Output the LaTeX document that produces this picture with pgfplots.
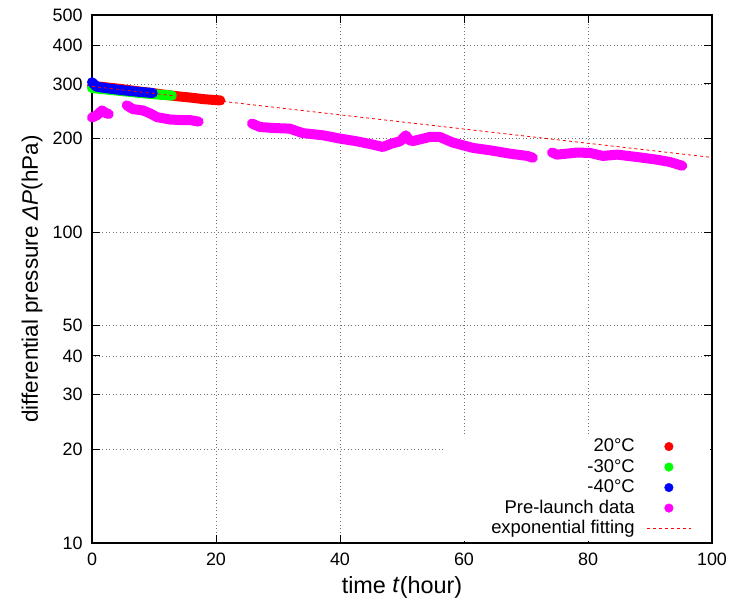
\documentclass[border=0pt]{standalone}
\usepackage{fontspec}
\setmainfont{Liberation Sans}
\usepackage{pgfplots}
\pgfplotsset{compat=1.18}
\usetikzlibrary{calc}

\definecolor{cRed}{HTML}{FF0000}
\definecolor{cGreen}{HTML}{00FF00}
\definecolor{cBlue}{HTML}{0000FF}
\definecolor{cMag}{HTML}{FF00FF}

\pgfplotsset{
  band/.style={line width=10bp, line cap=round, line join=round, forget plot},
}

\begin{document}
\begin{tikzpicture}
\begin{axis}[
  scale only axis,
  width=620bp, height=528bp,
  xmin=0, xmax=100,
  ymode=log, ymin=10, ymax=500,
  xtick={0,20,40,60,80,100},
  ytick={10,20,30,40,50,100,200,300,400,500},
  yticklabels={10,20,30,40,50,100,200,300,400,500},
  /pgf/number format/assume math mode=true,
  tick label style={font=\fontsize{18}{21}\selectfont},
  yticklabel style={xshift=-6bp},
  xticklabel style={yshift=-6bp},
  major tick length=8bp,
  every tick/.style={black, line width=1bp},
  axis line style={black, line width=1.2bp},
  grid=major,
  grid style={black!55, line width=0.7bp, dash pattern=on 1bp off 2.5bp},
  clip=false,
  xlabel={time \textit{t}(hour)},
  ylabel={differential pressure \textit{ΔP}(hPa)},
  xlabel style={font=\fontsize{23.5}{28}\selectfont,
    at={(axis description cs:0.5,-0.0947)}, anchor=base},
  ylabel style={font=\fontsize{22.5}{27}\selectfont,
    at={(axis description cs:-0.0871,0.5)}, anchor=base},
  legend cell align=right,
  legend plot pos=right,
  legend style={at={(axis description cs:1,0)}, anchor=south east,
    xshift=-1.5bp, yshift=2bp, draw=none, fill=white,
    inner xsep=19bp, inner ysep=2bp,
    font=\fontsize{18.5}{22}\selectfont,
    nodes={text height=13.5bp, text depth=3.5bp, inner xsep=6bp, inner ysep=1.75bp}},
]
% 20 C
\addplot[band, cRed] coordinates {
  (0,296) (2,293) (4,290) (6,286.5) (8,283) (10,280) (12,276.5)
  (14,273.5) (16,271) (18,268) (20.7,265.5)
};
% -30 C
\addplot[band, cGreen] coordinates {
  (0,291) (3,287) (6,283) (9,279) (11,277) (12.9,275.3)
};
% -40 C
\addplot[band, cBlue] coordinates {
  (0,304) (0.7,294) (3,289.5) (5,286.2) (7.5,283) (9.8,280.5)
};
% pre-launch data
\addplot[band, cMag] coordinates {
  (0,234) (0.8,238) (1.6,246.5) (2.2,242) (2.7,240)
};
\addplot[band, cMag] coordinates {
  (5.6,256) (6.6,249) (8.2,246.5) (9.4,241) (10.5,234.5) (12.6,230.5)
  (14.5,229.5) (15.8,229.5) (17.2,227)
};
\addplot[band, cMag] coordinates {
  (25.8,223.7) (27.1,218) (29.2,216.5) (31.9,215.4) (34,208.4) (37.3,205)
  (40,200.1) (42.7,196.2) (45.3,191.4) (46.9,188.1) (48.3,192.8) (49.7,196.2)
  (50.6,205) (51.2,197.5) (51.8,196.6) (54.5,202.5) (56.1,202.5) (58.2,194.3)
  (61.5,186.7) (64.2,183.5) (67.4,179) (70.2,176) (71.1,173.6)
};
\addplot[band, cMag] coordinates {
  (74.2,180.5) (75,177.7) (78.2,180.4) (80.3,180) (82.4,176) (84.7,177.7)
  (87.9,174.6) (91.1,171.2) (93.2,168.3) (95.2,163.6)
};
% exponential fitting
\addplot[cRed, line width=0.8bp, dash pattern=on 3bp off 3bp, forget plot] coordinates {
  (0,294.6) (20,265.2) (40,238.6) (60,214.8) (80,193.3) (100,174)
};

\addlegendimage{legend image code/.code={\path (0bp,0bp) (50bp,0bp); \fill[cRed] (28bp,0bp) circle (4.3bp);}}
\addlegendentry{20°C}
\addlegendimage{legend image code/.code={\path (0bp,0bp) (50bp,0bp); \fill[cGreen] (28bp,0bp) circle (4.3bp);}}
\addlegendentry{-30°C}
\addlegendimage{legend image code/.code={\path (0bp,0bp) (50bp,0bp); \fill[cBlue] (28bp,0bp) circle (4.3bp);}}
\addlegendentry{-40°C}
\addlegendimage{legend image code/.code={\path (0bp,0bp) (50bp,0bp); \fill[cMag] (28bp,0bp) circle (4.3bp);}}
\addlegendentry{Pre-launch data}
\addlegendimage{legend image code/.code={\path (0bp,0bp); \draw[cRed, line width=0.8bp, dash pattern=on 3bp off 3bp] (6bp,0bp) -- (50bp,0bp);}}
\addlegendentry{\makebox[164bp][r]{exponential fitting}}
\end{axis}
\path ($(current axis.south west)+(-92bp,-58bp)$) rectangle ($(current axis.north east)+(20bp,15bp)$);
\end{tikzpicture}
\end{document}
